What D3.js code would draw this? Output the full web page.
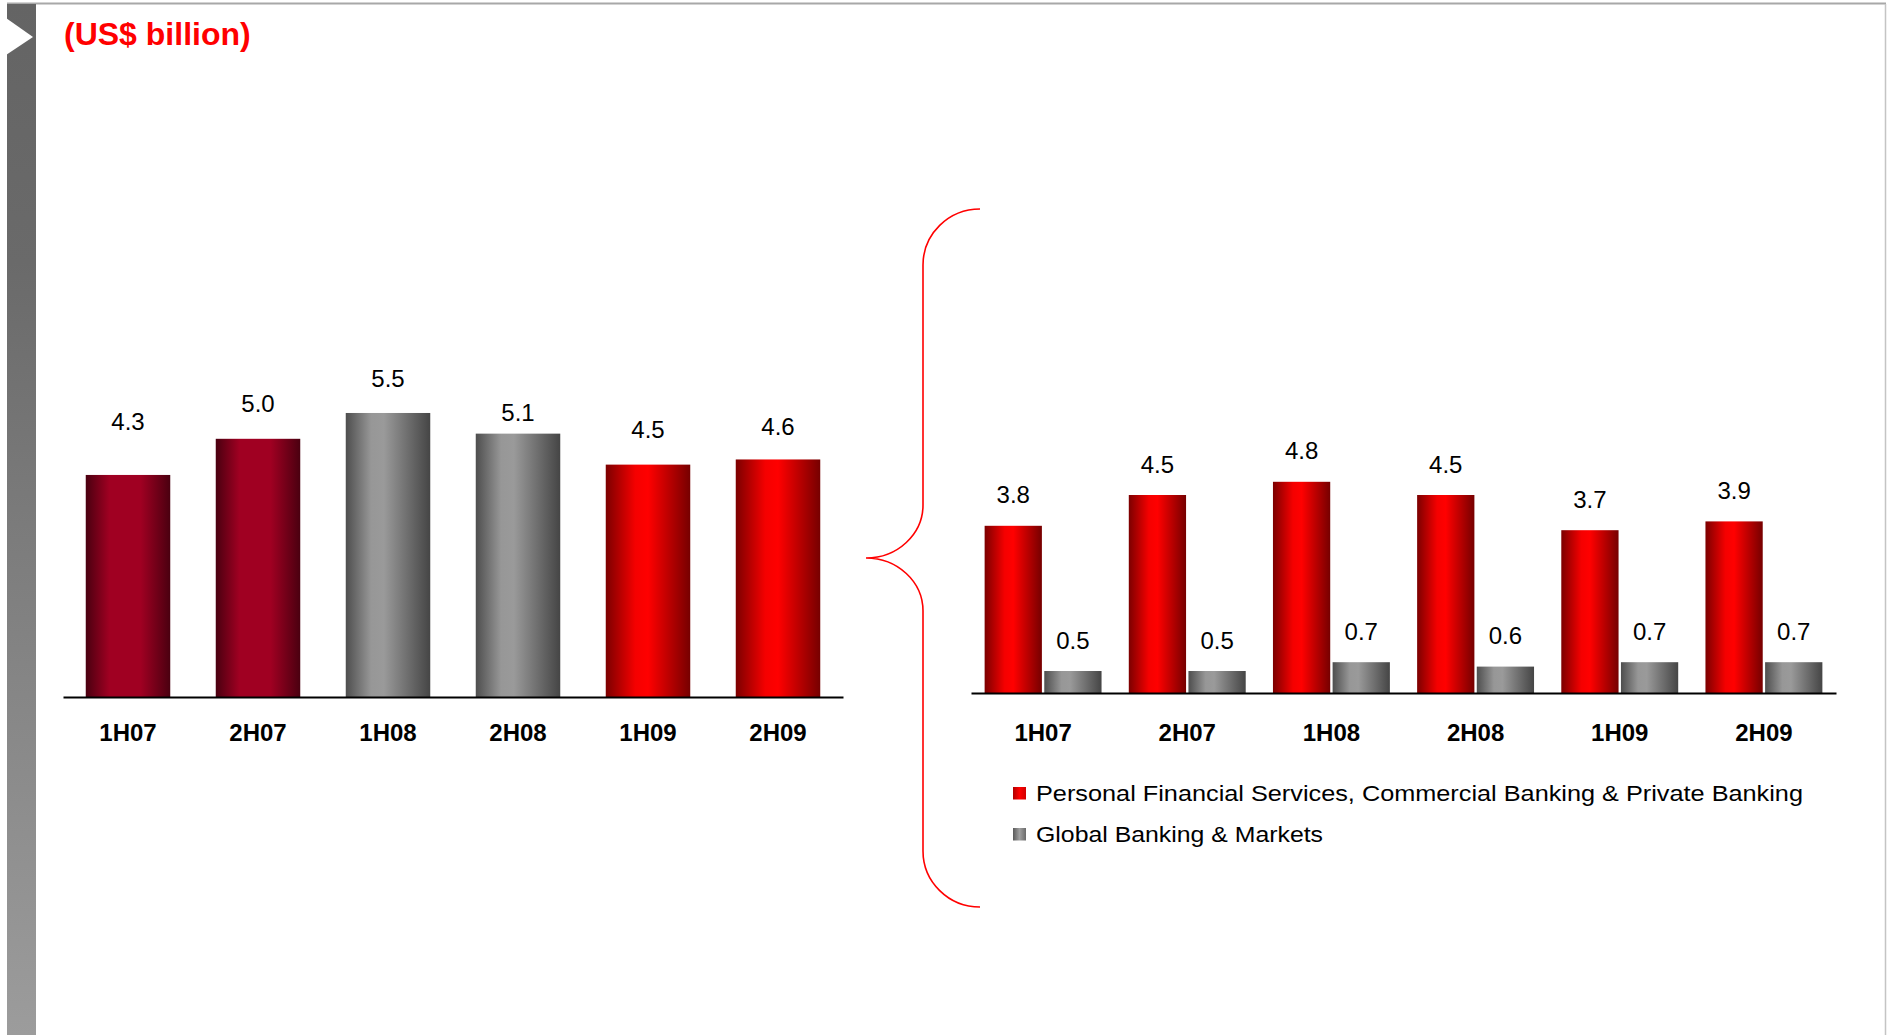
<!DOCTYPE html>
<html>
<head>
<meta charset="utf-8">
<script src="https://cdn.jsdelivr.net/npm/d3@7"></script>
<style>
  html, body { margin: 0; padding: 0; background: #fff; }
  svg { display: block; }
  text { font-family: "Liberation Sans", Arial, sans-serif; }
</style>
</head>
<body>
<script>
// ---------------- DATA ----------------
const unitTitle = "(US$ billion)";
const categories = ["1H07", "2H07", "1H08", "2H08", "1H09", "2H09"];
const totalIncome = [4.3, 5.0, 5.5, 5.1, 4.5, 4.6];
const seriesNames = [
  "Personal Financial Services, Commercial Banking & Private Banking",
  "Global Banking & Markets"
];
const pfsCmbPb = [3.8, 4.5, 4.8, 4.5, 3.7, 3.9];
const gbm = [0.5, 0.5, 0.7, 0.6, 0.7, 0.7];

// ---------------- LAYOUT ----------------
const W = 1890, H = 1035;
const leftLabelGap = [54, 35, 35, 21, 35, 33];
const valFont = 24;

const svg = d3.select("body").append("svg").attr("width", W).attr("height", H);
const defs = svg.append("defs");

function hGrad(id, stops) {
  const g = defs.append("linearGradient").attr("id", id)
    .attr("x1", "0").attr("y1", "0").attr("x2", "1").attr("y2", "0");
  stops.forEach(([o, c]) => g.append("stop").attr("offset", o).attr("stop-color", c));
}
hGrad("gDark", [[0, "#4a0010"], [0.28, "#a00022"], [0.65, "#a00022"], [1, "#4a0010"]]);
hGrad("gGray", [[0, "#4e4e4e"], [0.3, "#979797"], [0.45, "#9a9a9a"], [1, "#454545"]]);
hGrad("gRed", [[0, "#7c0000"], [0.35, "#f50000"], [0.5, "#ff0000"], [1, "#760000"]]);
hGrad("gRedSq", [[0, "#b00000"], [0.5, "#ff0000"], [1, "#d00000"]]);
hGrad("gGraySq", [[0, "#5a5a5a"], [0.5, "#a0a0a0"], [1, "#6a6a6a"]]);
const vg = defs.append("linearGradient").attr("id", "gSide")
  .attr("x1", "0").attr("y1", "0").attr("x2", "0").attr("y2", "1");
vg.append("stop").attr("offset", 0).attr("stop-color", "#646464");
vg.append("stop").attr("offset", 0.25).attr("stop-color", "#6a6a6a");
vg.append("stop").attr("offset", 1).attr("stop-color", "#9c9c9c");

// frame & sidebar
svg.append("line").attr("x1", 7).attr("x2", 1886).attr("y1", 3.5).attr("y2", 3.5)
  .attr("stroke", "#a8a8a8").attr("stroke-width", 2);
svg.append("line").attr("x1", 1885.5).attr("x2", 1885.5).attr("y1", 4).attr("y2", H)
  .attr("stroke", "#c4c4c4").attr("stroke-width", 1.5);
svg.append("rect").attr("x", 7).attr("y", 4).attr("width", 29).attr("height", H - 4)
  .attr("fill", "url(#gSide)");
svg.append("polygon").attr("points", "6,18 33,37 6,55").attr("fill", "#fff");

// title
svg.append("text").attr("x", 64).attr("y", 45).text(unitTitle)
  .attr("font-size", 32).attr("font-weight", "bold").attr("fill", "#ff0000");

// ---------------- LEFT CHART ----------------
const xL = d3.scaleBand().domain(categories).range([63, 843])
  .paddingInner(0.35).paddingOuter(0.175);
const yL = d3.scaleLinear().domain([0, 6]).range([697, 697 - 6 * 51.64]);
const yearFill = d3.scaleOrdinal().domain(["07", "08", "09"]).range(["url(#gDark)", "url(#gGray)", "url(#gRed)"]);

const left = svg.append("g");
left.selectAll("rect.bar").data(categories).join("rect").attr("class", "bar")
  .attr("x", d => xL(d)).attr("width", xL.bandwidth())
  .attr("y", (d, i) => yL(totalIncome[i])).attr("height", (d, i) => yL(0) - yL(totalIncome[i]))
  .attr("fill", d => yearFill(d.slice(2)));
left.selectAll("text.val").data(categories).join("text").attr("class", "val")
  .attr("x", d => xL(d) + xL.bandwidth() / 2)
  .attr("y", (d, i) => yL(totalIncome[i]) - leftLabelGap[i] + 0.358 * valFont)
  .attr("text-anchor", "middle").attr("font-size", valFont).attr("fill", "#000")
  .text((d, i) => d3.format(".1f")(totalIncome[i]));
const axL = left.append("g").attr("transform", `translate(0,${yL(0)})`)
  .call(d3.axisBottom(xL).tickSize(0).tickSizeOuter(0).tickPadding(27));
axL.select(".domain").attr("stroke", "#000").attr("stroke-width", 2);
axL.selectAll("text").attr("font-size", 24).attr("font-weight", "bold")
  .attr("font-family", "'Liberation Sans', Arial, sans-serif").attr("fill", "#000");

// ---------------- BRACE ----------------
svg.append("path")
  .attr("d", "M980,209 A57,56 0 0 0 923,265 L923,505 A57,53 0 0 1 866,558 A57,53 0 0 1 923,611 L923,851 A57,56 0 0 0 980,907")
  .attr("fill", "none").attr("stroke", "#ff0000").attr("stroke-width", 1.6);

// ---------------- RIGHT CHART ----------------
const xR = d3.scaleBand().domain(categories).range([971, 1836])
  .paddingInner(0.189).paddingOuter(0.0945);
const xSub = d3.scaleBand().domain([0, 1]).range([0, xR.bandwidth()]).paddingInner(0.04);
const yR = d3.scaleLinear().domain([0, 5]).range([693, 693 - 5 * 44]);
const seriesData = [pfsCmbPb, gbm];
const seriesFill = ["url(#gRed)", "url(#gGray)"];

const right = svg.append("g");
const groups = right.selectAll("g.grp").data(categories).join("g").attr("class", "grp")
  .attr("transform", d => `translate(${xR(d)},0)`);
groups.selectAll("rect").data((d, i) => seriesData.map((s, k) => ({ k, v: s[i] }))).join("rect")
  .attr("x", d => xSub(d.k)).attr("width", xSub.bandwidth())
  .attr("y", d => yR(d.v)).attr("height", d => yR(0) - yR(d.v))
  .attr("fill", d => seriesFill[d.k]);
groups.selectAll("text").data((d, i) => seriesData.map((s, k) => ({ k, v: s[i] }))).join("text")
  .attr("x", d => xSub(d.k) + xSub.bandwidth() / 2)
  .attr("y", d => yR(d.v) - 31 + 0.358 * valFont)
  .attr("text-anchor", "middle").attr("font-size", valFont).attr("fill", "#000")
  .text(d => d3.format(".1f")(d.v));
const axR = right.append("g").attr("transform", `translate(0,${yR(0)})`)
  .call(d3.axisBottom(xR).tickSize(0).tickSizeOuter(0).tickPadding(30.5));
axR.select(".domain").attr("stroke", "#000").attr("stroke-width", 2);
axR.selectAll("text").attr("font-size", 24).attr("font-weight", "bold")
  .attr("font-family", "'Liberation Sans', Arial, sans-serif").attr("fill", "#000");

// legend
const legendLen = [767, 287];
const legendFill = ["url(#gRedSq)", "url(#gGraySq)"];
const lg = svg.append("g").selectAll("g").data(seriesNames).join("g")
  .attr("transform", (d, i) => `translate(1013,${793.5 + i * 41})`);
lg.append("rect").attr("x", 0).attr("y", -6.5).attr("width", 13).attr("height", 12.5)
  .attr("fill", (d, i) => legendFill[i]);
lg.append("text").attr("x", 23).attr("y", 0.358 * 22).attr("font-size", 22).attr("fill", "#000")
  .attr("textLength", (d, i) => legendLen[i]).attr("lengthAdjust", "spacingAndGlyphs")
  .text(d => d);
</script>
</body>
</html>
